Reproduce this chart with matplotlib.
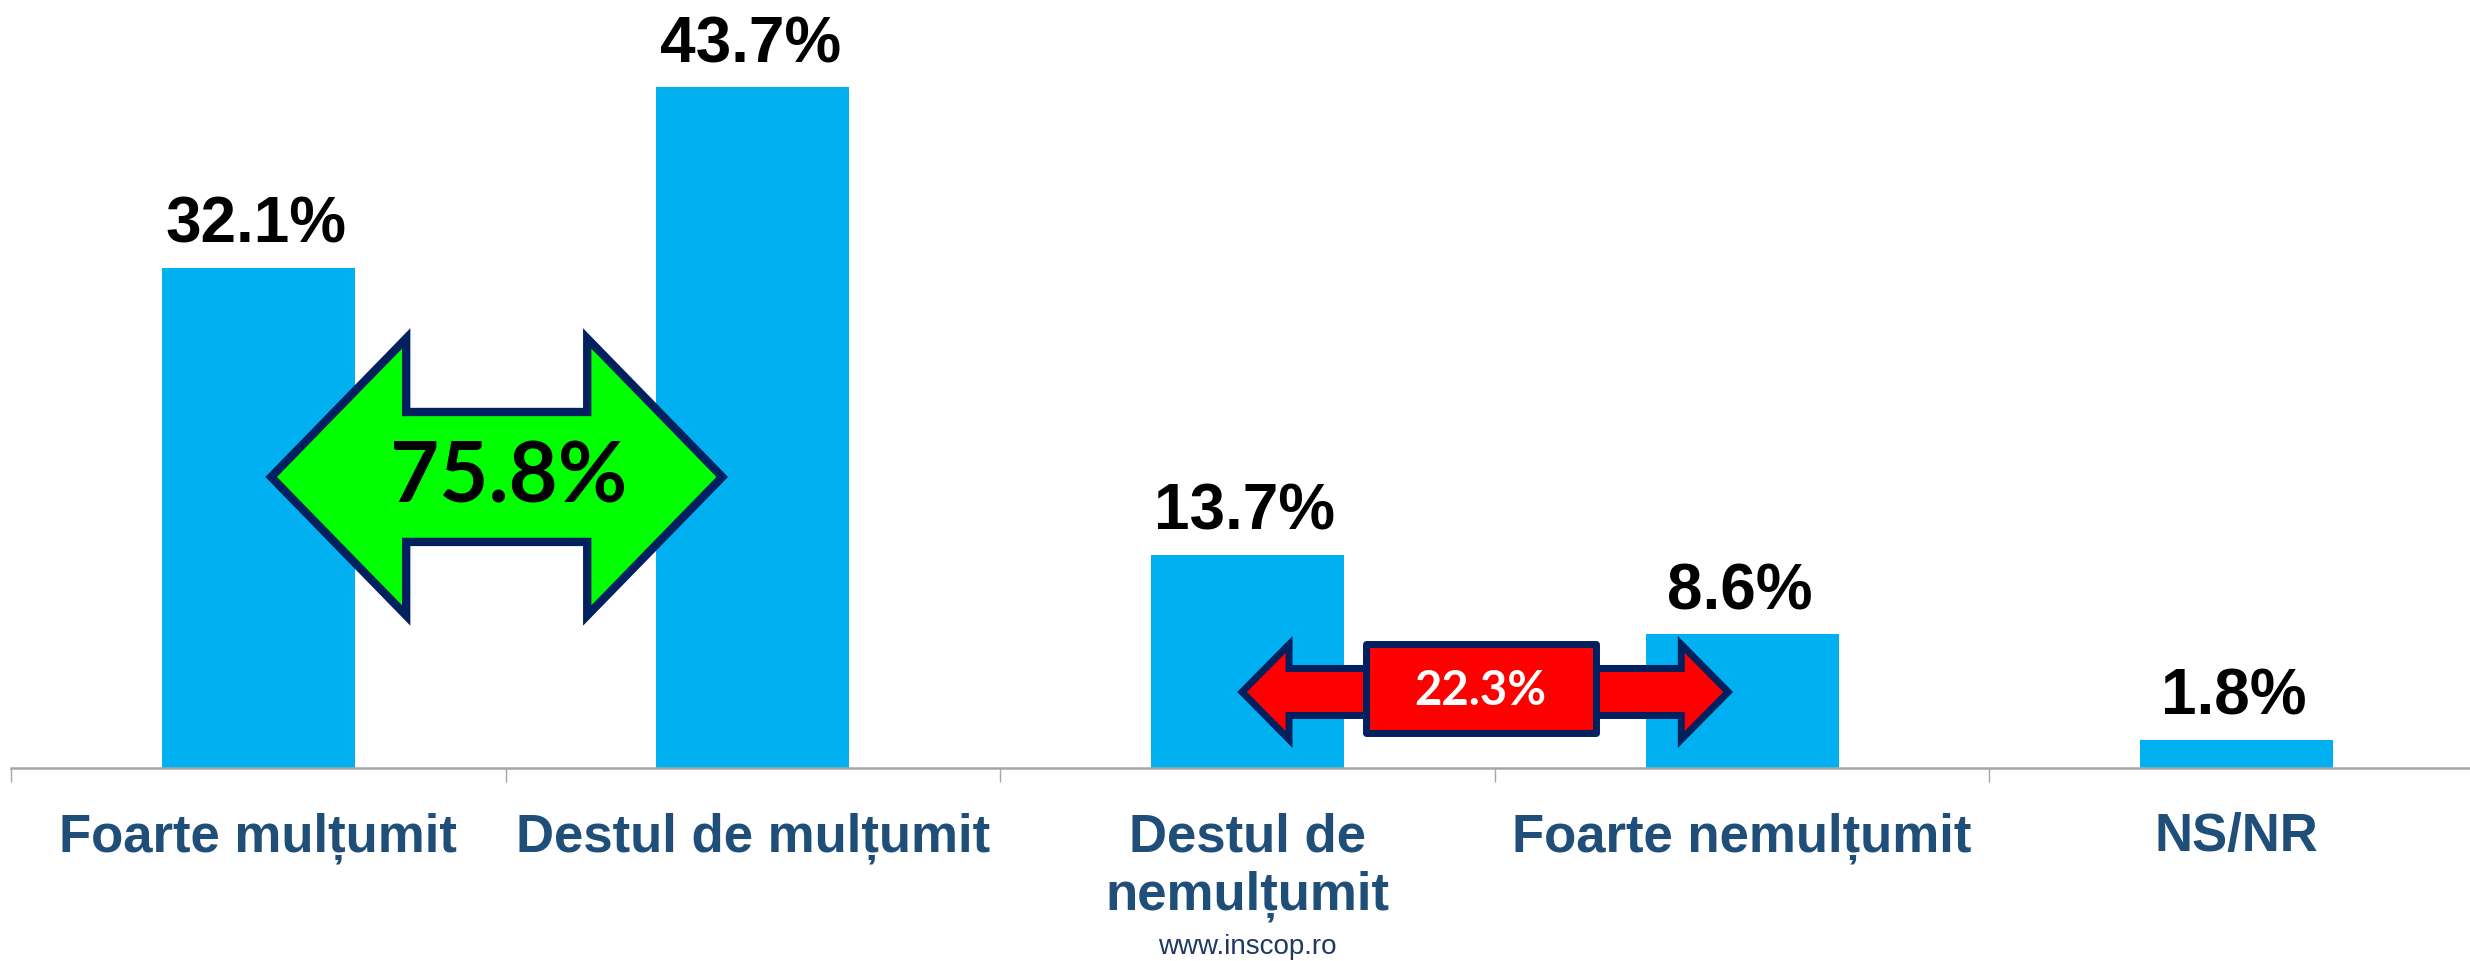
import matplotlib.pyplot as plt
from matplotlib.patches import Polygon, Rectangle
import matplotlib.transforms as mtransforms

# date sondaj
categories = ['Foarte mulțumit', 'Destul de mulțumit', 'Destul de\nnemulțumit',
              'Foarte nemulțumit', 'NS/NR']
values = [32.1, 43.7, 13.7, 8.6, 1.8]
value_labels = ['32.1%', '43.7%', '13.7%', '8.6%', '1.8%']
total_multumit = '75.8%'
total_nemultumit = '22.3%'
source = 'www.inscop.ro'

bar_color = '#00B0F0'
label_color = '#1F4E79'
navy = '#002060'


def double_arrow(ax, x0, x1, yc, shaft, head, head_len, **kw):
    pts = [(x0, yc), (x0 + head_len, yc + head), (x0 + head_len, yc + shaft),
           (x1 - head_len, yc + shaft), (x1 - head_len, yc + head), (x1, yc),
           (x1 - head_len, yc - head), (x1 - head_len, yc - shaft),
           (x0 + head_len, yc - shaft), (x0 + head_len, yc - head)]
    ax.add_patch(Polygon(pts, closed=True, joinstyle='miter', zorder=4, **kw))


fig = plt.figure(figsize=(24.7, 9.61), dpi=100)
ax = fig.add_axes([11 / 2470, 193 / 961, 2473 / 2470, 49 * 15.58 / 961])

x = list(range(len(categories)))
ax.bar(x, values, width=0.39, color=bar_color, zorder=2)
ax.set_xlim(-0.5, 4.5)
ax.set_ylim(0, 49)

# etichete valori
for xi, v, lab in zip(x, values, value_labels):
    ax.annotate(lab, (xi, v), xytext=(-2, 18), textcoords='offset points',
                ha='center', va='baseline', fontsize=46, fontweight='bold',
                family='Liberation Sans', color='black')

# axe
for s in ['left', 'top', 'right']:
    ax.spines[s].set_visible(False)
ax.spines['bottom'].set_color('#A6A6A6')
ax.spines['bottom'].set_linewidth(1.8)
ax.set_yticks([])
ax.set_xticks(x)
ax.set_xticklabels(categories, fontsize=38, fontweight='bold',
                   family='Liberation Sans', color=label_color)
ax.set_xticks([i - 0.5 for i in range(len(categories) + 1)], minor=True)
ax.tick_params(axis='x', which='major', length=0, pad=32)
ax.tick_params(axis='x', which='minor', length=10, width=1, color='#A6A6A6')

# sageata verde
double_arrow(ax, 0.026, 0.938, 18.68, 4.17, 8.89, 0.273,
             facecolor='#00FF00', edgecolor=navy, linewidth=6)
ax.text(0.507, 18.6, total_multumit, ha='center', va='center', fontsize=61,
        fontweight='bold', family='Lato', color='black', zorder=5)

# sageata rosie
double_arrow(ax, 1.989, 2.972, 4.88, 1.51, 3.05, 0.095,
             facecolor='#FF0000', edgecolor=navy, linewidth=5)
ax.add_patch(Rectangle((2.24, 2.25), 0.465, 5.71, facecolor='#FF0000',
                       edgecolor=navy, linewidth=5, joinstyle='round', zorder=5))
ax.text(2.471, 4.94, total_nemultumit, ha='center', va='center', fontsize=34,
        fontweight='bold', family='Lato', color='white', zorder=6)

# sursa
trans = mtransforms.blended_transform_factory(ax.transData, fig.transFigure)
ax.text(2.0, 0.0146, source, transform=trans, ha='center', va='center',
        fontsize=20, family='Liberation Sans', color='#1F3864')

fig.savefig('out.png', dpi=100)
